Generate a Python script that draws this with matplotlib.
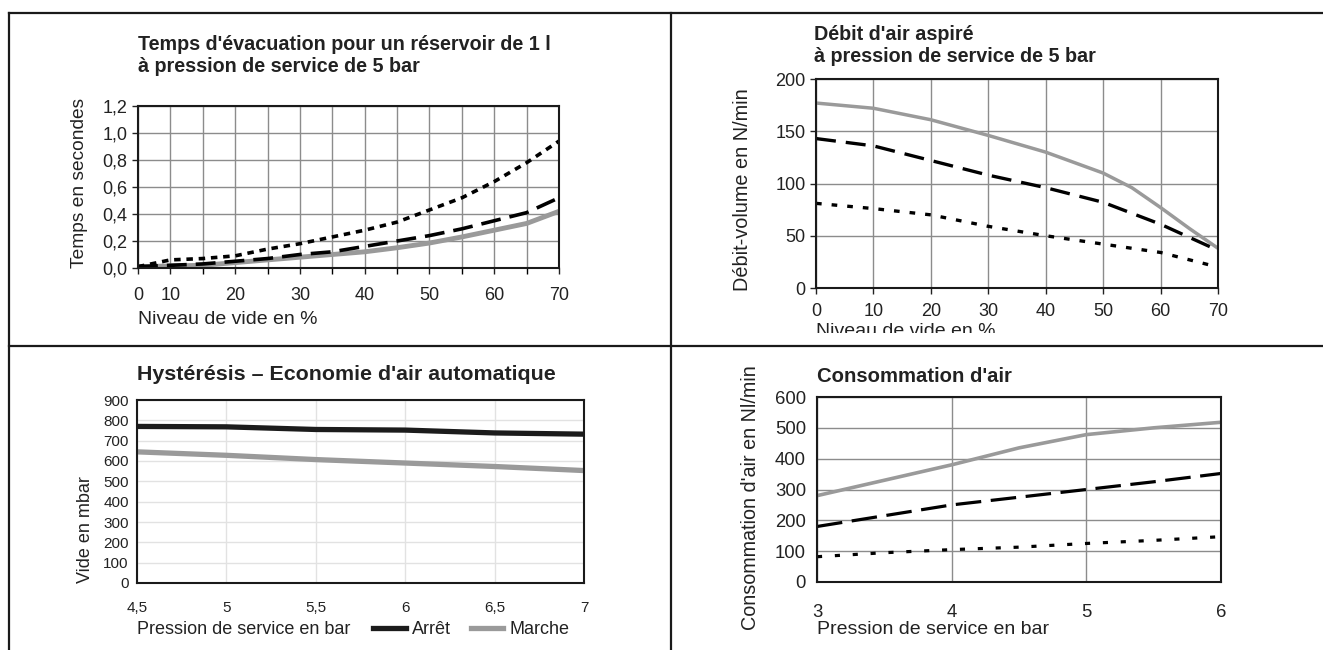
import numpy as np
import matplotlib
matplotlib.use('Agg')
import matplotlib.pyplot as plt
from matplotlib.patches import Rectangle
from matplotlib.lines import Line2D
from matplotlib.ticker import FuncFormatter, MultipleLocator

plt.rcParams['font.family'] = ['Liberation Sans', 'DejaVu Sans']

# --- data ---
evac_x = [0, 10, 15, 20, 25, 30, 35, 40, 45, 50, 55, 60, 65, 70]
evac_dot = [0.01, 0.06, 0.07, 0.09, 0.14, 0.18, 0.23, 0.28, 0.34, 0.43, 0.52, 0.64, 0.78, 0.94]
evac_dash = [0.01, 0.02, 0.03, 0.05, 0.07, 0.10, 0.12, 0.16, 0.20, 0.24, 0.29, 0.35, 0.41, 0.52]
evac_gray = [0.01, 0.015, 0.02, 0.04, 0.06, 0.08, 0.10, 0.12, 0.15, 0.185, 0.23, 0.28, 0.33, 0.42]
evac_labels = ['0', '10', '20', '30', '40', '50', '60', '70']

debit_x_gray = [0, 10, 20, 30, 40, 50, 55, 60, 65, 70]
debit_gray = [177, 172, 161, 146, 130, 110, 96, 77, 57, 38]
debit_x = [0, 10, 20, 30, 40, 50, 60, 70]
debit_dash = [143, 136, 122, 108, 96, 82, 61, 36]
debit_dot = [81, 76, 70, 59, 50, 42, 34, 20]

hyst_x = [4.5, 5, 5.5, 6, 6.5, 7]
hyst_arret = [770, 768, 755, 752, 738, 732]
hyst_marche = [645, 628, 607, 590, 573, 553]

conso_x = [3, 3.5, 4, 4.5, 5, 5.5, 6]
conso_gray = [280, 330, 380, 435, 478, 500, 518]
conso_dash = [180, 215, 250, 275, 300, 325, 352]
conso_dot = [82, 95, 105, 113, 125, 135, 147]

W, H = 1323, 650
TXT = '#222222'
GRAY = '#9a9a9a'
GRID = '#8c8c8c'

fig = plt.figure(figsize=(W / 100, H / 100), dpi=100)


def px_axes(l, t, r, b):
    return fig.add_axes([l / W, 1 - b / H, (r - l) / W, (b - t) / H])


def ftext(x, y, s, **kw):
    kw.setdefault('color', TXT)
    return fig.text(x / W, 1 - y / H, s, **kw)


def style(ax, size=13, grid=GRID):
    for sp in ax.spines.values():
        sp.set_linewidth(1.5)
        sp.set_color('#1a1a1a')
    ax.tick_params(labelsize=size, colors=TXT, length=4, width=1)
    ax.grid(True, color=grid, linewidth=1)
    ax.set_axisbelow(True)


comma = FuncFormatter(lambda v, p: ('%.1f' % v).replace('.', ','))
comma_g = FuncFormatter(lambda v, p: ('%g' % v).replace('.', ','))

# panel 1
ax1 = px_axes(138, 106, 559, 268)
pos = np.arange(len(evac_x))
ax1.plot(pos, evac_gray, color=GRAY, lw=3.5)
ax1.plot(pos, evac_dash, color='black', lw=2.6, linestyle=(0, (5.5, 2.5)))
ax1.plot(pos, evac_dot, color='black', lw=2.6, linestyle=(0, (1.8, 1.6)))
ax1.set_xlim(0, len(evac_x) - 1)
ax1.set_ylim(0, 1.2)
ax1.set_xticks(pos, minor=True)
ax1.set_xticks([evac_x.index(int(s)) for s in evac_labels])
ax1.set_xticklabels(evac_labels)
ax1.yaxis.set_major_locator(MultipleLocator(0.2))
ax1.yaxis.set_major_formatter(comma)
style(ax1)
ax1.grid(True, which='minor', axis='x', color=GRID, linewidth=1)
ax1.tick_params(which='minor', length=4, width=1)
ax1.tick_params(axis='x', pad=10)
ftext(138, 45, "Temps d'évacuation pour un réservoir de 1 l", fontsize=14.2,
      fontweight='bold', va='center')
ftext(138, 67, "à pression de service de 5 bar", fontsize=14.2,
      fontweight='bold', va='center')
ftext(80, 183, 'Temps en secondes', fontsize=13.8, rotation=90, ha='center', va='center')
ftext(138, 320, 'Niveau de vide en %', fontsize=14, va='center')

# panel 2
ax2 = px_axes(816, 79, 1218, 288)
ax2.plot(debit_x_gray, debit_gray, color=GRAY, lw=2.5)
ax2.plot(debit_x, debit_dash, color='black', lw=2.4, linestyle=(0, (6, 3)))
ax2.plot(debit_x, debit_dot, color='black', lw=2.4, linestyle=(0, (1.7, 3)))
ax2.set_xlim(0, 70)
ax2.set_ylim(0, 200)
ax2.xaxis.set_major_locator(MultipleLocator(10))
ax2.yaxis.set_major_locator(MultipleLocator(50))
style(ax2)
ax2.tick_params(axis='x', pad=7)
ftext(814, 34, "Débit d'air aspiré", fontsize=14.2, fontweight='bold', va='center')
ftext(814, 57, "à pression de service de 5 bar", fontsize=14.2, fontweight='bold', va='center')
ftext(742, 190, 'Débit-volume en N/min', fontsize=14.3, rotation=90, ha='center', va='center')
ftext(816, 323, 'Niveau de vide en %', fontsize=14, va='top')

# panel 3
ax3 = px_axes(137, 400, 584, 583)
ax3.plot(hyst_x, hyst_arret, color='#1c1c1c', lw=3.8, label='Arrêt')
ax3.plot(hyst_x, hyst_marche, color=GRAY, lw=3.8, label='Marche')
ax3.set_xlim(4.5, 7)
ax3.set_ylim(0, 900)
ax3.xaxis.set_major_locator(MultipleLocator(0.5))
ax3.xaxis.set_major_formatter(comma_g)
ax3.yaxis.set_major_locator(MultipleLocator(100))
style(ax3, size=11, grid='#e2e2e2')
ax3.tick_params(length=0, pad=6)
ax3.tick_params(axis='x', pad=13)
ftext(137, 375, "Hystérésis – Economie d'air automatique", fontsize=15.4,
      fontweight='bold', va='center')
ftext(86, 530, 'Vide en mbar', fontsize=13, rotation=90, ha='center', va='center')
ftext(137, 630, 'Pression de service en bar', fontsize=13, va='center')
ax3.legend(loc='center left', bbox_to_anchor=(357 / W, 1 - 630 / H),
           bbox_transform=fig.transFigure, ncol=2, frameon=False, fontsize=13,
           handlelength=1.8, handletextpad=0.35, columnspacing=1.1,
           labelcolor=TXT)

# panel 4
ax4 = px_axes(817, 397, 1221, 582)
ax4.plot(conso_x, conso_gray, color=GRAY, lw=2.6)
ax4.plot(conso_x, conso_dash, color='black', lw=2.3, linestyle=(0, (8, 3)))
ax4.plot(conso_x, conso_dot, color='black', lw=2.3, linestyle=(0, (1.6, 4)))
ax4.set_xlim(3, 6)
ax4.set_ylim(0, 600)
ax4.xaxis.set_major_locator(MultipleLocator(1))
ax4.yaxis.set_major_locator(MultipleLocator(100))
style(ax4, size=13.3)
ax4.tick_params(length=0, pad=8)
ax4.tick_params(axis='x', pad=16)
ftext(817, 377, "Consommation d'air", fontsize=14.6, fontweight='bold', va='center')
ftext(751, 498, "Consommation d'air en Nl/min", fontsize=14.2, rotation=90,
      ha='center', va='center')
ftext(817, 630, 'Pression de service en bar', fontsize=14, va='center')

# page frame: clip the cut-off label and draw the cell borders
fig.add_artist(Rectangle((680 / W, 1 - 345 / H), 1 - 680 / W, 12 / H,
                         transform=fig.transFigure, facecolor='white',
                         edgecolor='none', zorder=5))
frame = dict(transform=fig.transFigure, color='#1a1a1a', lw=1.6, zorder=6)
fig.add_artist(Line2D([9 / W, 1], [1 - 13 / H, 1 - 13 / H], **frame))
fig.add_artist(Line2D([9 / W, 1], [1 - 346 / H, 1 - 346 / H], **frame))
fig.add_artist(Line2D([9 / W, 9 / W], [0, 1 - 13 / H], **frame))
fig.add_artist(Line2D([671 / W, 671 / W], [0, 1 - 13 / H], **frame))

fig.savefig('out.png', dpi=100)
